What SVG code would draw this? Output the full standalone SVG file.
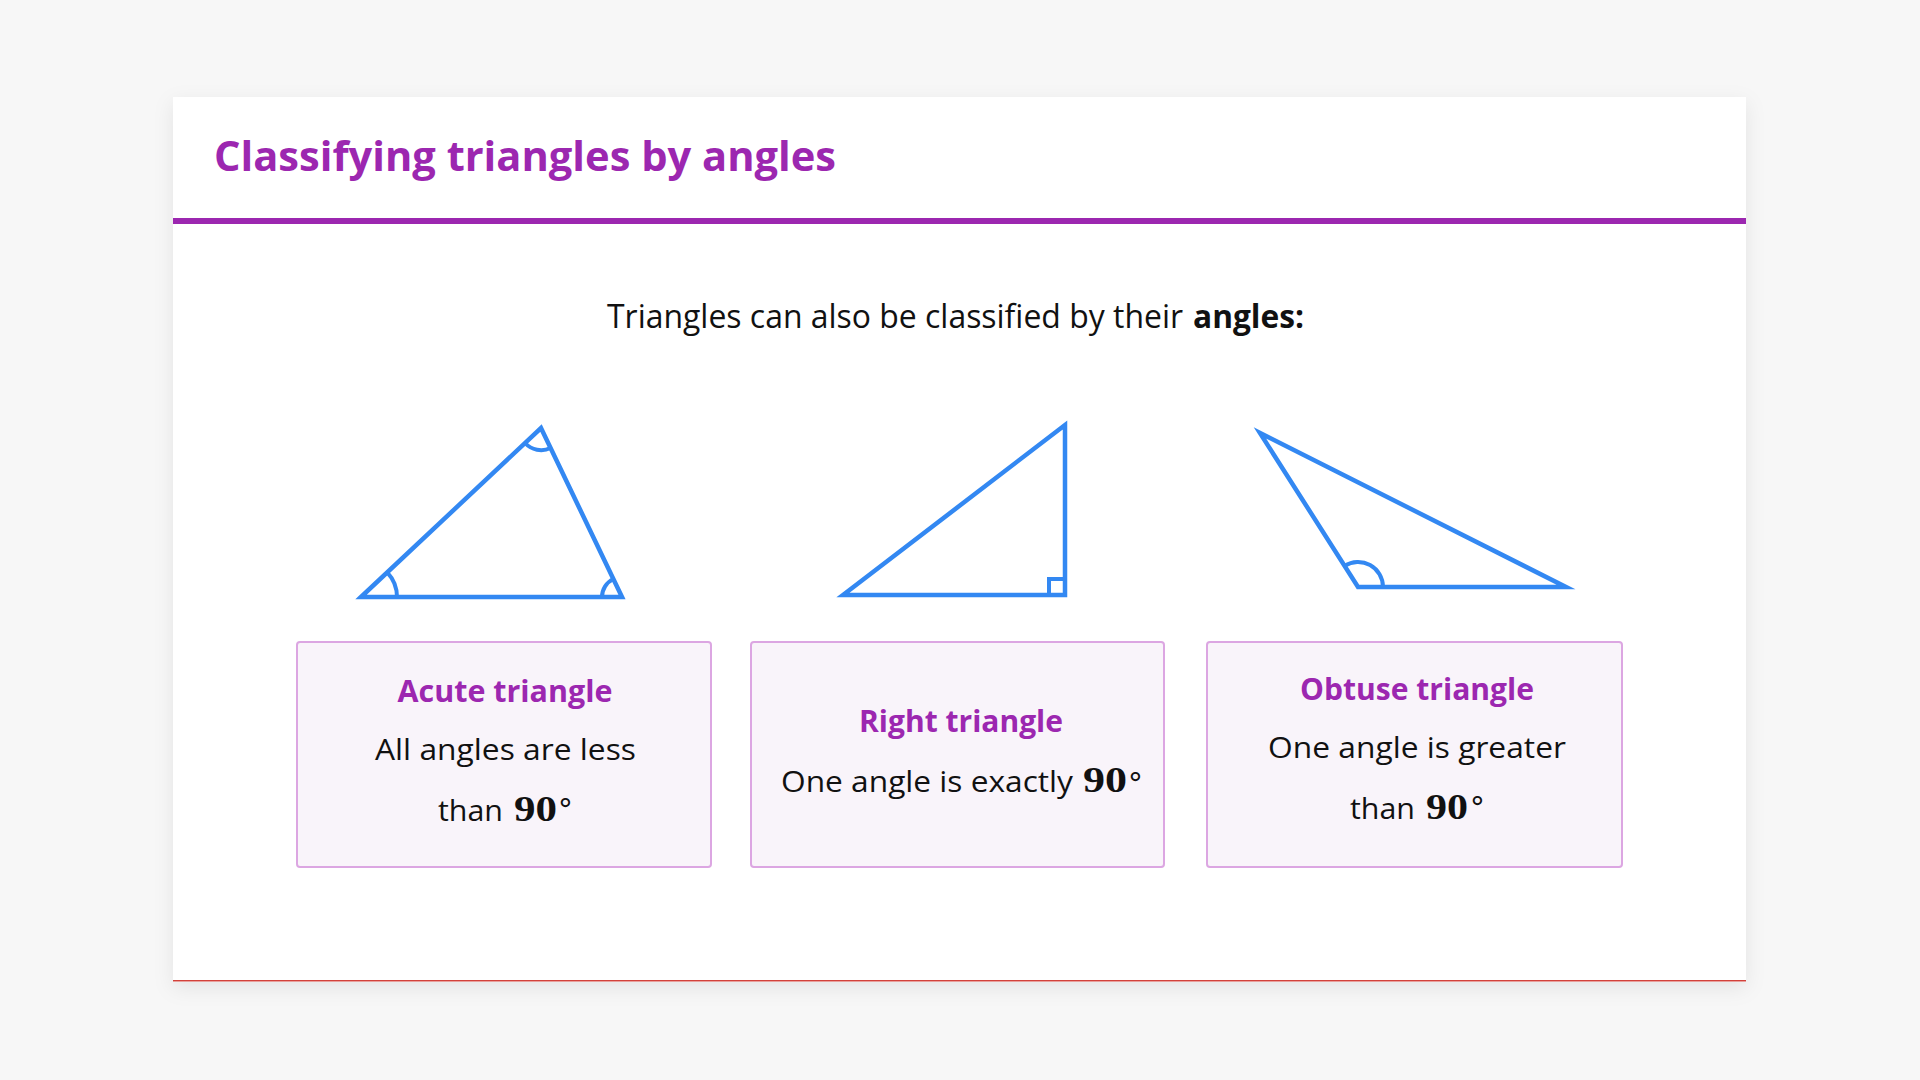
<svg xmlns="http://www.w3.org/2000/svg" width="1920" height="1080" viewBox="0 0 1920 1080">
<defs>
<filter id="shadow" x="-5%" y="-5%" width="110%" height="112%">
<feDropShadow dx="0" dy="6" stdDeviation="10" flood-color="#000" flood-opacity="0.08"/>
</filter>
<style>
.tri{fill:none;stroke:#3388F2;stroke-width:4.5;stroke-linejoin:miter;stroke-miterlimit:10}
.arc{fill:none;stroke:#3388F2;stroke-width:4}
.box{fill:#F9F4FA;stroke:#DCA6E2;stroke-width:2}
.h{font-family:"Open Sans","Liberation Sans",sans-serif;font-weight:700;fill:#9C27B0}
.t{font-family:"Open Sans","Liberation Sans",sans-serif;font-weight:400;fill:#111}
.b{font-family:"Open Sans","Liberation Sans",sans-serif;font-weight:700;fill:#111}
.n{font-family:"Liberation Serif","DejaVu Serif",serif;font-weight:700;fill:#111}
.d{font-family:"DejaVu Sans",sans-serif;font-weight:400;fill:#111}
</style>
</defs>
<rect x="0" y="0" width="1920" height="1080" fill="#F7F7F7"/>
<g id="card">
<rect x="173" y="97" width="1573" height="885" fill="#FFFFFF" filter="url(#shadow)"/>
<rect x="173" y="218" width="1573" height="6" fill="#9C27B0"/>
<rect x="173" y="980" width="1573" height="1.5" fill="#D2413A"/>
<text class="h" x="214" y="171" font-size="42" textLength="622" lengthAdjust="spacingAndGlyphs">Classifying triangles by angles</text>
<text class="t" x="607" y="328" font-size="32" textLength="576" lengthAdjust="spacingAndGlyphs">Triangles can also be classified by their</text>
<text class="b" x="1193" y="328" font-size="32" textLength="111" lengthAdjust="spacingAndGlyphs">angles:</text>
</g>
<g id="acute-shape">
<path class="tri" d="M361 597 L541 428 L622 597 Z"/>
<path class="arc" d="M397 597 A36 36 0 0 0 387.2 572.3"/>
<path class="arc" d="M525 443 A22 22 0 0 0 550.6 448"/>
<path class="arc" d="M602 597 A20 20 0 0 1 613.4 579"/>
</g>
<g id="right-shape">
<path class="tri" d="M843 595 L1065 425 L1065 595 Z"/>
<path class="arc" d="M1049 595 V579 H1065"/>
</g>
<g id="obtuse-shape">
<path class="tri" d="M1260 433 L1358 587 L1566 587 Z"/>
<path class="arc" d="M1383 587 A25 25 0 0 0 1344.6 565.9"/>
</g>
<g id="acute-box">
<rect class="box" x="297" y="642" width="414" height="225" rx="3"/>
<text class="h" x="505" y="702" font-size="30" text-anchor="middle" textLength="215" lengthAdjust="spacingAndGlyphs">Acute triangle</text>
<text class="t" x="505.5" y="760" font-size="29" text-anchor="middle" textLength="261" lengthAdjust="spacingAndGlyphs">All angles are less</text>
<text class="t" x="438" y="821" font-size="29" textLength="65" lengthAdjust="spacingAndGlyphs">than</text>
<text class="n" x="514" y="821" font-size="36" textLength="43" lengthAdjust="spacingAndGlyphs">90</text>
<text class="d" x="556" y="812" font-size="30">∘</text>
</g>
<g id="right-box">
<rect class="box" x="751" y="642" width="413" height="225" rx="3"/>
<text class="h" x="961" y="732" font-size="30" text-anchor="middle" textLength="204" lengthAdjust="spacingAndGlyphs">Right triangle</text>
<text class="t" x="781" y="792" font-size="29" textLength="292" lengthAdjust="spacingAndGlyphs">One angle is exactly</text>
<text class="n" x="1083" y="792" font-size="36" textLength="44" lengthAdjust="spacingAndGlyphs">90</text>
<text class="d" x="1126" y="786" font-size="30">∘</text>
</g>
<g id="obtuse-box">
<rect class="box" x="1207" y="642" width="415" height="225" rx="3"/>
<text class="h" x="1417" y="700" font-size="30" text-anchor="middle" textLength="234" lengthAdjust="spacingAndGlyphs">Obtuse triangle</text>
<text class="t" x="1417" y="758" font-size="29" text-anchor="middle" textLength="298" lengthAdjust="spacingAndGlyphs">One angle is greater</text>
<text class="t" x="1350" y="819" font-size="29" textLength="65" lengthAdjust="spacingAndGlyphs">than</text>
<text class="n" x="1426" y="819" font-size="36" textLength="42" lengthAdjust="spacingAndGlyphs">90</text>
<text class="d" x="1468" y="810" font-size="30">∘</text>
</g>
<g id="connectors"></g>
</svg>
